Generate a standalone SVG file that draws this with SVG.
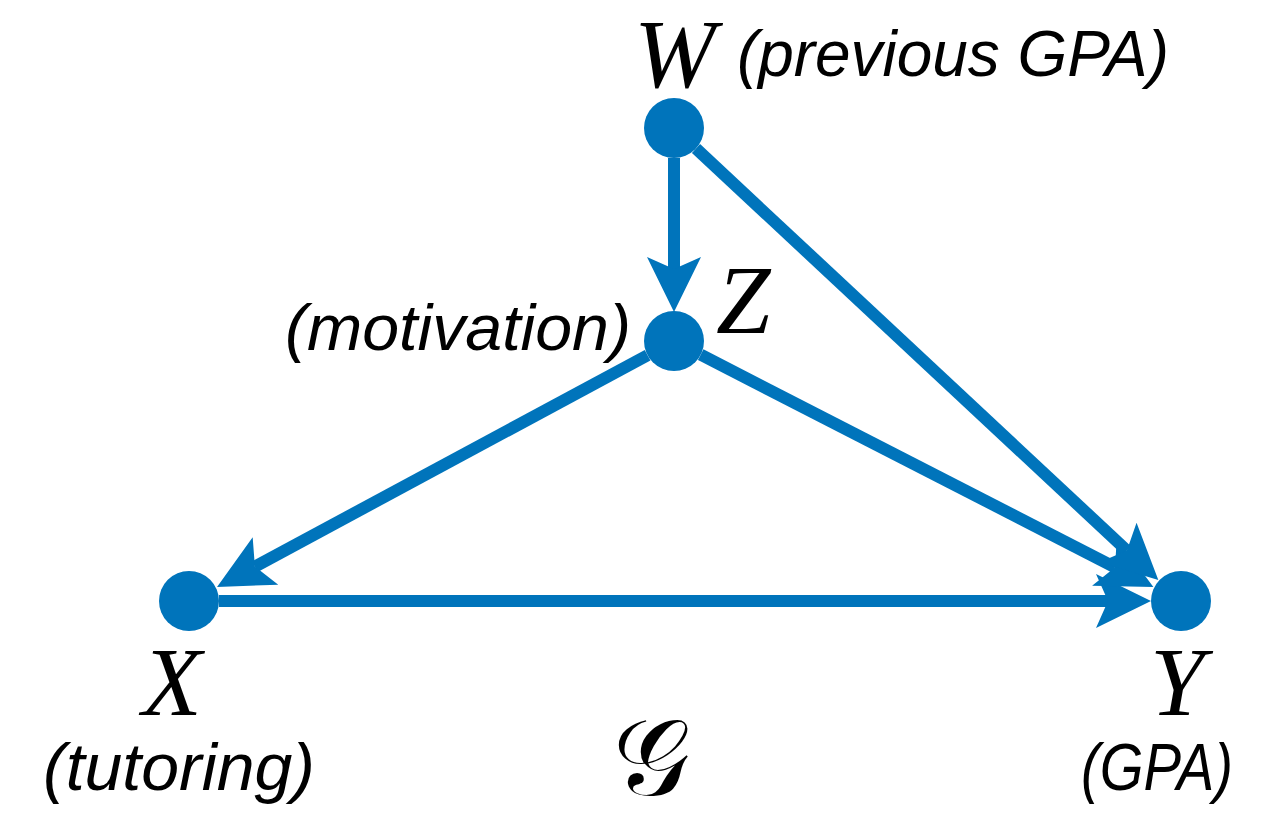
<svg xmlns="http://www.w3.org/2000/svg" width="1286" height="815" viewBox="0 0 1286 815">
<style>
.node{fill:#0074BB}
.edge{stroke:#0074BB;stroke-width:12;fill:none;marker-end:url(#ah)}
.var{font-family:"Liberation Serif",serif;font-style:italic;font-size:98px;fill:#000}
.lab{font-family:"Liberation Sans",Arial,sans-serif;font-style:italic;fill:#000}
</style>
<defs>
<marker id="ah" markerUnits="userSpaceOnUse" markerWidth="56" markerHeight="56" viewBox="0 0 56 56" refX="12" refY="28" orient="auto">
<path d="M0,1 L55,28 L0,55 L12,28 Z" fill="#0074BB"/>
</marker>
</defs>
<rect width="1286" height="815" fill="#fff"/>
<g id="connectors">
<line class="edge" x1="674" y1="158" x2="674" y2="269"/>
<line class="edge" x1="647.6" y1="355.2" x2="254.9" y2="566.6"/>
<line class="edge" x1="219" y1="601" x2="1108" y2="601"/>
<line class="edge" x1="700.7" y1="354.7" x2="1115.1" y2="567.3"/>
<line class="edge" x1="696" y1="148.5" x2="1126.9" y2="550.6"/>
</g>
<g id="W"><circle class="node" cx="674" cy="128" r="30"/><text class="var" x="634" y="87">W</text><text class="lab" x="737" y="76" font-size="65" textLength="432" lengthAdjust="spacingAndGlyphs">(previous GPA)</text></g>
<g id="Z"><circle class="node" cx="674" cy="341" r="30"/><text class="var" x="716" y="333">Z</text><text class="lab" x="285" y="350" font-size="64" textLength="346" lengthAdjust="spacingAndGlyphs">(motivation)</text></g>
<g id="X"><circle class="node" cx="189" cy="601" r="30"/><text class="var" x="142" y="715">X</text><text class="lab" x="43" y="790" font-size="67" textLength="272" lengthAdjust="spacingAndGlyphs">(tutoring)</text></g>
<g id="Y"><circle class="node" cx="1181" cy="601" r="30"/><text class="var" x="1150" y="715">Y</text><text class="lab" x="1081" y="790" font-size="67" textLength="152" lengthAdjust="spacingAndGlyphs">(GPA)</text></g>
<g id="G"><text x="651" y="795" text-anchor="middle" style="font-family:'DejaVu Serif','DejaVu Sans',serif;font-size:108px;fill:#000">𝒢</text></g>
</svg>
